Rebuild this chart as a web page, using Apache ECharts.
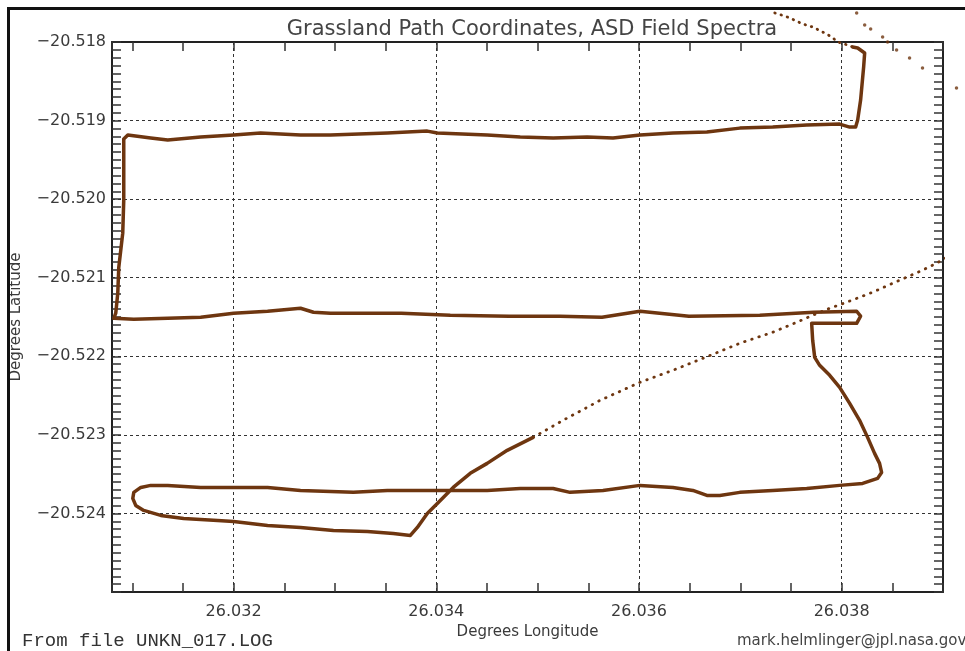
<!DOCTYPE html>
<html><head><meta charset="utf-8">
<script src="https://cdn.jsdelivr.net/npm/echarts@6/dist/echarts.min.js"></script>
<style>html,body{margin:0;padding:0;background:#fff}#c{width:965px;height:651px}</style>
</head><body><div id="c"></div>
<script>
// GPS track (degrees longitude / latitude)
const trackLon = [26.038108,26.038158,26.038227,26.038217,26.038187,26.038158,26.038138,26.038079,26.037980,26.037655,
  26.037320,26.036995,26.036670,26.036335,26.036010,26.035744,26.035488,26.035153,26.034828,26.034502,
  26.034010,26.033911,26.033517,26.032956,26.032660,26.032266,26.032000,26.031675,26.031350,26.031182,
  26.030956,26.030916,26.030916,26.030906,26.030867,26.030857,26.030837,26.030818,26.031015,26.031350,
  26.031675,26.032000,26.032335,26.032660,26.032788,26.032956,26.033655,26.034138,26.034719,26.035222,
  26.035635,26.036010,26.036493,26.037192,26.037724,26.038148,26.038187,26.038148,26.037704,26.037714,
  26.037734,26.037783,26.037882,26.037980,26.038079,26.038177,26.038256,26.038325,26.038374,26.038394,
  26.038355,26.038207,26.037980,26.037655,26.037320,26.036995,26.036798,26.036670,26.036532,26.036335,
  26.036010,26.035645,26.035320,26.035153,26.034828,26.034502,26.034010,26.033517,26.033182,26.032660,
  26.032335,26.032000,26.031675,26.031350,26.031182,26.031084,26.031015,26.031005,26.031034,26.031113,
  26.031281,26.031507,26.031842,26.032000,26.032335,26.032660,26.032985,26.033320,26.033576,26.033744,
  26.033813,26.033911,26.034010,26.034167,26.034335,26.034502,26.034700,26.034956];
const trackLat = [-20.518064,-20.518076,-20.518140,-20.518318,-20.518739,-20.518994,-20.519083,-20.519083,-20.519045,-20.519057,
  -20.519083,-20.519096,-20.519146,-20.519159,-20.519185,-20.519223,-20.519210,-20.519223,-20.519210,-20.519185,
  -20.519159,-20.519134,-20.519159,-20.519185,-20.519185,-20.519159,-20.519185,-20.519210,-20.519248,-20.519223,
  -20.519185,-20.519236,-20.520013,-20.520433,-20.520866,-20.521197,-20.521452,-20.521516,-20.521529,-20.521516,
  -20.521503,-20.521452,-20.521427,-20.521389,-20.521439,-20.521452,-20.521452,-20.521478,-20.521490,-20.521490,
  -20.521503,-20.521427,-20.521490,-20.521478,-20.521439,-20.521427,-20.521490,-20.521580,-20.521580,-20.521796,
  -20.522013,-20.522115,-20.522242,-20.522395,-20.522599,-20.522815,-20.523032,-20.523236,-20.523363,-20.523478,
  -20.523554,-20.523618,-20.523643,-20.523682,-20.523707,-20.523732,-20.523771,-20.523771,-20.523707,-20.523669,
  -20.523643,-20.523707,-20.523732,-20.523682,-20.523682,-20.523707,-20.523707,-20.523707,-20.523732,-20.523707,
  -20.523669,-20.523669,-20.523669,-20.523643,-20.523643,-20.523669,-20.523732,-20.523809,-20.523898,-20.523962,
  -20.524025,-20.524064,-20.524089,-20.524102,-20.524153,-20.524178,-20.524217,-20.524229,-20.524255,-20.524280,
  -20.524178,-20.524000,-20.523873,-20.523669,-20.523490,-20.523363,-20.523197,-20.523032];
// sparse fixes along the diagonal
const diagLon = [26.034956,26.035251,26.035616,26.036010,26.036335,26.036729,26.036995,26.037320,26.037557,
  26.037714,26.037882,26.038049,26.038305,26.038571,26.038798,26.038936,26.039212];
const diagLat = [-20.523032,-20.522815,-20.522561,-20.522331,-20.522178,-20.521975,-20.521834,-20.521694,-20.521567,
  -20.521478,-20.521389,-20.521312,-20.521185,-20.521032,-20.520904,-20.520815,-20.520611];
// sparse fixes above the plot (top right)
const arcALon = [26.037340,26.037438,26.037488,26.037616,26.037714,26.037813,26.037902,26.037961,26.038059,26.038108];
const arcALat = [-20.517631,-20.517669,-20.517694,-20.517771,-20.517809,-20.517873,-20.517936,-20.518000,-20.518038,-20.518064];
const arcBLon = [26.038148,26.038227,26.038286,26.038404,26.038453,26.038542,26.038670,26.038798,26.039133];
const arcBLat = [-20.517631,-20.517783,-20.517834,-20.517936,-20.518000,-20.518102,-20.518204,-20.518331,-20.518586];

const X_MIN = 26.0308, X_MAX = 26.039, X_STEP = 0.002;
const Y_MIN = -20.525, Y_MAX = -20.518, Y_STEP = 0.001;

function pairs(a, b) { return a.map((v, i) => [v, b[i]]); }

const FONT = 'DejaVu Sans';
const BROWN = '#6e3610';
const chart = echarts.init(document.getElementById('c'), null, {renderer: 'canvas'});

const axisLine = {show: true, onZero: false, lineStyle: {color: '#222', width: 2}};
const tick = {show: true, inside: true, length: 9, lineStyle: {color: '#333', width: 1.5}};
const grid = {show: true, type: [3, 3], color: '#333', width: 1};

chart.setOption({
  animation: false,
  backgroundColor: '#fff',
  title: {
    text: 'Grassland Path Coordinates, ASD Field Spectra',
    left: 527, top: 14, textAlign: 'center',
    textStyle: {fontFamily: FONT, fontSize: 21, fontWeight: 'normal', color: '#444'}
  },
  grid: {left: 112, top: 42, right: 22, bottom: 59, containLabel: false, outerBoundsMode: 'none'},
  xAxis: [{
    type: 'value', position: 'bottom', min: X_MIN, max: X_MAX,
    minInterval: X_STEP, maxInterval: X_STEP,
    axisLine: axisLine, axisTick: tick,
    minorTick: {show: true, splitNumber: 4, length: 9, lineStyle: {color: '#333', width: 1.5}},
    splitLine: {show: true, showMinLine: false, showMaxLine: false, lineStyle: grid},
    axisLabel: {show: true, showMinLabel: false, showMaxLabel: false, margin: 12,
      fontFamily: FONT, fontSize: 16, color: '#3a3a3a', formatter: v => v.toFixed(3)},
    name: 'Degrees Longitude', nameLocation: 'middle', nameGap: 30,
    nameTextStyle: {fontFamily: FONT, fontSize: 15, color: '#3a3a3a'}
  }, {
    type: 'value', position: 'top', min: X_MIN, max: X_MAX,
    minInterval: X_STEP, maxInterval: X_STEP,
    axisLine: axisLine, axisTick: tick,
    minorTick: {show: true, splitNumber: 4, length: 9, lineStyle: {color: '#333', width: 1.5}},
    splitLine: {show: false}, axisLabel: {show: false}
  }],
  yAxis: [{
    type: 'value', position: 'left', min: Y_MIN, max: Y_MAX, interval: Y_STEP,
    axisLine: axisLine, axisTick: tick,
    minorTick: {show: true, splitNumber: 10, length: 9, lineStyle: {color: '#333', width: 1.5}},
    splitLine: {show: true, showMinLine: false, showMaxLine: false, lineStyle: grid},
    axisLabel: {show: true, showMinLabel: false, margin: 6,
      fontFamily: FONT, fontSize: 16, color: '#3a3a3a',
      formatter: v => (v < 0 ? '\u2212' : '') + Math.abs(v).toFixed(3)},
    name: 'Degrees Latitude', nameLocation: 'middle', nameGap: 88, nameRotate: 90,
    nameTextStyle: {fontFamily: FONT, fontSize: 15, color: '#3a3a3a'}
  }, {
    type: 'value', position: 'right', min: Y_MIN, max: Y_MAX, interval: Y_STEP,
    axisLine: axisLine, axisTick: tick,
    minorTick: {show: true, splitNumber: 10, length: 9, lineStyle: {color: '#333', width: 1.5}},
    splitLine: {show: false}, axisLabel: {show: false}
  }],
  series: [{
    type: 'line', xAxisIndex: 0, yAxisIndex: 0, data: pairs(trackLon, trackLat),
    symbol: 'none', clip: false, z: 5,
    lineStyle: {color: BROWN, width: 3.5, join: 'round', cap: 'round'}
  }, {
    type: 'line', xAxisIndex: 0, yAxisIndex: 0, data: pairs(diagLon, diagLat),
    symbol: 'none', clip: false, z: 5,
    lineStyle: {color: BROWN, width: 2.8, type: [0.5, 7], cap: 'round'}
  }, {
    type: 'line', xAxisIndex: 0, yAxisIndex: 0, data: pairs(arcALon, arcALat),
    symbol: 'none', clip: false, z: 5,
    lineStyle: {color: BROWN, width: 2.8, type: [0.5, 6], cap: 'round'}
  }, {
    type: 'scatter', xAxisIndex: 0, yAxisIndex: 0, data: pairs(arcBLon, arcBLat),
    symbolSize: 3.5, clip: false, z: 5,
    itemStyle: {color: BROWN}
  }],
  graphic: [{
    type: 'rect', silent: true, z: 100,
    shape: {x: 8.5, y: 8.5, width: 1000, height: 1000},
    style: {fill: null, stroke: '#111', lineWidth: 3}
  }, {
    type: 'text', left: 22, top: 631, silent: true,
    style: {text: 'From file UNKN_017.LOG', font: '19px "Liberation Mono"', fill: '#333'}
  }, {
    type: 'text', left: 737, top: 634, silent: true,
    style: {text: 'mark.helmlinger@jpl.nasa.gov', font: '15px "DejaVu Sans"', fill: '#444'}
  }]
});
</script>
</body></html>
